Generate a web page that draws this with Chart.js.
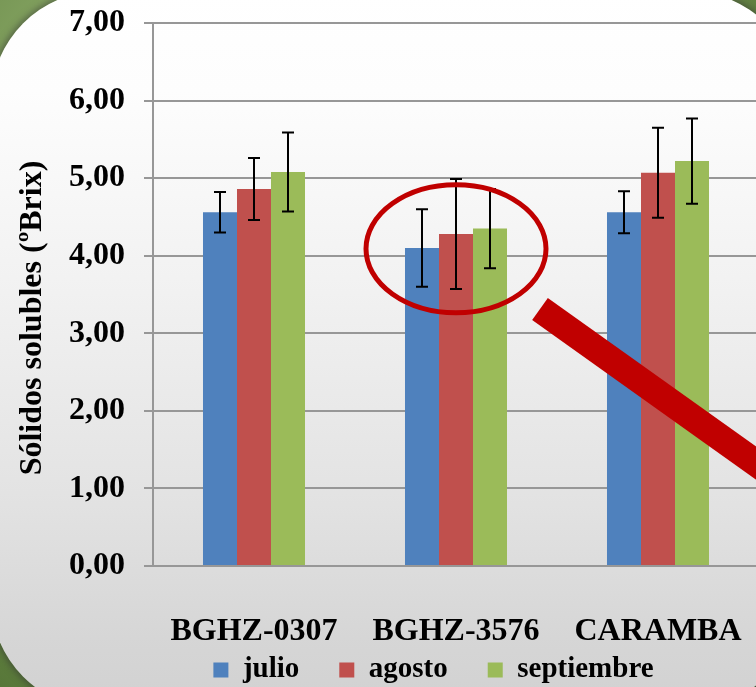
<!DOCTYPE html>
<html><head><meta charset="utf-8">
<script src="https://cdn.jsdelivr.net/npm/chart.js@4"></script>
<style>
html,body{margin:0;padding:0;width:756px;height:687px;overflow:hidden;}
body{position:relative;background:radial-gradient(ellipse at 40% 30%, #a9c488 0%, #86a563 45%, #5d7d3d 80%, #46632b 100%);}
#panel{position:absolute;left:-9px;top:-9px;width:807px;height:718px;border-radius:110px;
 background:linear-gradient(to bottom,#ffffff 0%,#fdfdfd 14%,#f2f2f2 40%,#e3e3e3 70%,#d6d6d6 90%,#d1d1d1 100%);
 box-shadow:0 0 7px 2px rgba(50,50,50,0.55);}
#wrap{position:absolute;left:0;top:0;width:756px;height:687px;overflow:hidden;}
canvas{display:block;}
</style></head>
<body><div id="panel"></div><div id="wrap"><canvas id="c" width="760" height="687" style="width:760px;height:687px"></canvas></div>
<script>
const categories = ['BGHZ-0307', 'BGHZ-3576', 'CARAMBA'];
const seriesNames = ['julio', 'agosto', 'septiembre'];
const julio = [4.56, 4.10, 4.56];
const agosto = [4.86, 4.28, 5.07];
const septiembre = [5.08, 4.35, 5.22];
const julioErr = [0.26, 0.50, 0.27];
const agostoErr = [0.40, 0.71, 0.58];
const septiembreErr = [0.51, 0.51, 0.55];
const yTickLabels = ['0,00', '1,00', '2,00', '3,00', '4,00', '5,00', '6,00', '7,00'];
const yTitle = 'Sólidos solubles (ºBrix)';
const seriesColors = ['#4F81BD', '#C0504D', '#9BBB59'];

const FONT = "'Liberation Serif', 'Times New Roman', serif";
const GRID = '#979797';

const errorBars = {
  id: 'errorBars',
  afterDatasetsDraw(chart) {
    const ctx = chart.ctx, ys = chart.scales.y;
    chart.data.datasets.forEach((ds, di) => {
      const meta = chart.getDatasetMeta(di);
      meta.data.forEach((bar, i) => {
        const v = ds.data[i], e = ds.errors[i];
        const yt = ys.getPixelForValue(v + e), yb = ys.getPixelForValue(v - e);
        ctx.save();
        ctx.strokeStyle = '#000'; ctx.lineWidth = 2;
        ctx.beginPath();
        ctx.moveTo(bar.x, yt); ctx.lineTo(bar.x, yb);
        ctx.moveTo(bar.x - 6, yt); ctx.lineTo(bar.x + 6, yt);
        ctx.moveTo(bar.x - 6, yb); ctx.lineTo(bar.x + 6, yb);
        ctx.stroke();
        ctx.restore();
      });
    });
  }
};

// place the legend row (box is also its clip area)
const placeLegend = {
  id: 'placeLegend',
  afterLayout(chart) {
    const l = chart.legend;
    l.left = 54; l.right = 759 + 54;
    l.top = 615.5; l.bottom = 687;
    l.width = l.right - l.left; l.height = l.bottom - l.top;
  }
};

const overlay = {
  id: 'overlay',
  afterDraw(chart) {
    const ctx = chart.ctx, xs = chart.scales.x, ys = chart.scales.y;
    // y-axis title
    ctx.save();
    ctx.translate(33, 318);
    ctx.rotate(-Math.PI / 2);
    ctx.font = "bold 32px " + FONT;
    ctx.fillStyle = '#000';
    ctx.textAlign = 'center';
    ctx.textBaseline = 'middle';
    ctx.fillText(yTitle, 0, 0);
    ctx.restore();
    // red ellipse around the middle group
    const cx = xs.getPixelForValue(1), cy = ys.getPixelForValue(4.09);
    ctx.save();
    ctx.strokeStyle = '#C00000'; ctx.lineWidth = 5;
    ctx.beginPath();
    ctx.ellipse(cx, cy, 90, 64, 0, 0, Math.PI * 2);
    ctx.stroke();
    // red thick slanted bar
    const ang = 35.5 * Math.PI / 180;
    const sx = 540, sy = 309;
    ctx.strokeStyle = '#C00000'; ctx.lineWidth = 27; ctx.lineCap = 'butt';
    ctx.beginPath();
    ctx.moveTo(sx, sy);
    ctx.lineTo(sx + Math.cos(ang) * 500, sy + Math.sin(ang) * 500);
    ctx.stroke();
    ctx.restore();
  }
};

const seriesValues = [julio, agosto, septiembre];
const seriesErrors = [julioErr, agostoErr, septiembreErr];

new Chart(document.getElementById('c'), {
  type: 'bar',
  data: {
    labels: categories,
    datasets: seriesNames.map((n, i) => ({
      label: n,
      data: seriesValues[i],
      errors: seriesErrors[i],
      backgroundColor: seriesColors[i],
      borderWidth: 0,
      categoryPercentage: 0.505,
      barPercentage: 1
    }))
  },
  options: {
    responsive: false,
    animation: false,
    devicePixelRatio: 1,
    layout: { padding: { top: 23, right: 1, left: 0, bottom: 0 } },
    plugins: {
      tooltip: { enabled: false },
      legend: {
        position: 'bottom',
        maxHeight: 35,
        labels: {
          boxWidth: 15, boxHeight: 15, padding: 40, color: '#000',
          font: { family: FONT, weight: 'bold', size: 29 }
        }
      }
    },
    scales: {
      x: {
        afterFit(s) { s.height = 86; s.paddingLeft = 0; s.paddingRight = 0; },
        grid: { display: true, drawOnChartArea: false, drawTicks: false, color: GRID },
        border: { display: true, color: GRID, width: 2 },
        ticks: { color: '#000', padding: 47, maxRotation: 0, autoSkip: false,
                 font: { family: FONT, weight: 'bold', size: 32 } }
      },
      y: {
        min: 0, max: 7,
        afterFit(s) { s.width = 153; s.paddingTop = 0; s.paddingBottom = 0; },
        grid: { color: GRID, lineWidth: 2, tickLength: 9, tickColor: GRID, drawTicks: true },
        border: { display: true, color: GRID, width: 2 },
        ticks: {
          stepSize: 1, color: '#000', padding: 19,
          font: { family: FONT, weight: 'bold', size: 32 },
          callback: (v, i) => yTickLabels[i]
        }
      }
    }
  },
  plugins: [errorBars, placeLegend, overlay]
});
</script>
</body></html>
